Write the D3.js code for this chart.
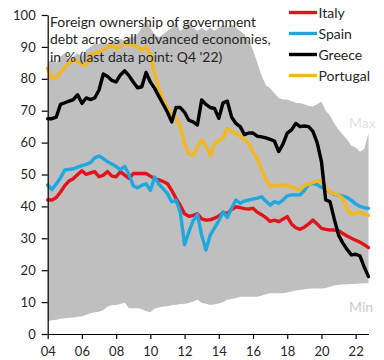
<!DOCTYPE html>
<html><head><meta charset="utf-8">
<script src="https://cdn.jsdelivr.net/npm/d3@7"></script>
<style>
body{margin:0;background:#fff}
svg{display:block}
text{font-family:Lato,"Open Sans",sans-serif}
</style>
</head><body>
<svg id="chart" width="384" height="360"></svg>
<script>
// Quarterly data, Q1 2004 .. Q4 2022
const startYear = 2004;
const italy = [
  42,42,42.8,44.5, 46.5,48,48.7,50, 51.2,50,50.5,50.9, 49.3,49.8,50.9,49.5,
  49.3,50.9,49.8,48.8, 50.3,50.3,50.3,50.3, 49.5,48.7,48.3,47.8, 47.1,45,42.5,40.3,
  37.7,36.9,37.2,37.7, 36.1,35.7,35.8,36.3, 37,38,37.8,39, 39.9,39.6,39.3,39.2,
  39.4,38.2,37.4,36.5, 35.3,35.7,35.2,36, 36.8,34.5,33.3,32.8, 33.5,34.5,35.7,34.5,
  33.1,32.8,32.6,32.6, 32.4,31.5,30.7,30, 29.4,28.8,28,27.1
];
const spain = [
  46.7,45.3,47,49, 51.4,51.6,51.8,52.3, 52.8,53.2,53.7,55.2, 55.8,55,54,53.3,
  52.5,51.5,52.5,50, 46.5,45.8,46.6,47.1, 45,49.2,47,45.5, 44,41.4,41.9,38.2,
  28,32,35.5,37.5, 31,26.3,31,33.3, 35.5,38.3,36.5,39.5, 42,41,41.7,42,
  42.3,42.6,43,41.7, 40.4,41.5,41,42, 43.3,43.6,43.6,43.6, 45,46.9,47.2,46.8,
  46,45.5,44.5,43.8, 43.5,43.2,42.8,41.9, 40.8,40,39.6,39.4
];
const greece = [
  67.5,67.5,68,72, 72.5,73,73.5,75, 72.3,74,73.5,74, 76.5,81.5,80.7,79.5,
  79,81.2,82.5,81, 79,77.2,77.5,82, 79,77,74.5,72, 69.5,66.5,71,71,
  69.5,67,66.5,65.5, 73.4,72,71,70.7, 67.6,72.5,73,68, 66,65,62.5,63,
  63,62,61.8,61.5, 61,60.5,57.2,59.5, 63,64,66,65, 65.2,65,63.5,60,
  54,42,41.5,36, 31,28.5,26.5,24.8, 25,24.5,21,18
];
const portugal = [
  83.3,80,80.5,82, 83.5,85,86,85.5, 84.5,84.3,87.5,88, 88.5,89,90,90.5,
  89.5,90,91,91, 90.5,90,89,90, 88,81.5,77,73.5, 71,69,67.5,65,
  59.5,56.5,56,58.5, 60.8,59,56,59.5, 60.8,61.3,64.5,63.5, 62.9,62,61,59.8,
  57,55,51.5,48.5, 46.2,46.5,46.7,46.7, 46.5,46.2,45.5,45.1, 46.5,47,47.5,48,
  48,46,44.5,44, 43.5,42.5,39,37.5, 38,38.2,37.5,37.2
];
const maxAll = [
  85,86,85,87, 88,86,87,88, 87,89,90,91, 91,91.5,91,92,
  92,92.5,92,93, 93,94,96,98.5, 96,94,93,94, 95,96,98,95,
  96,98,96,95, 96,95,96,95, 96,97,96,97, 96,95,94,92,
  89,85,81,78, 77,75.5,74,73.5, 73.5,73,72.5,72.3, 72,71.5,71.3,72,
  72.8,70,68.5,66, 64,62.5,61,59, 58.5,57.1,58,62.9
];
const minAll = [
  4.1,4.3,4.5,4.8, 4.9,5.1,5.2,5.4, 5.5,6,6.5,6.8, 7,7.5,8.6,9,
  9.1,9.4,9.8,8.1, 8.1,8.1,7.8,7.2, 6.8,8,8.3,8.6, 8.7,9,9.2,9.4,
  9.5,9.7,10.2,10.7, 9.8,9.5,9.1,9.3, 9.6,10,10.7,11, 11.3,11.7,11.7,11.7,
  11.7,11.7,12,12.5, 12.8,12.8,12.8,12.8, 13,13.3,13.6,13.8, 14,14.2,14.3,14.3,
  14.3,14.4,14.8,15.2, 15.4,15.5,15.6,15.7, 15.7,15.8,15.9,15.9
];
const quarters = italy.map((_, i) => startYear + i / 4);
const seriesNames = ["Italy", "Spain", "Greece", "Portugal"];
const xTickYears = [2004,2006,2008,2010,2012,2014,2016,2018,2020,2022];
const xTickLabels = ["04","06","08","10","12","14","16","18","20","22"];
const yTicks = [0,10,20,30,40,50,60,70,80,90,100];
const titleLines = ["Foreign ownership of government", "debt across all advanced economies,", "in % (last data point: Q4 '22)"];

const colors = {Italy:"#e3131b", Spain:"#1fa8e0", Greece:"#000000", Portugal:"#f4b81c"};
const dataBy = {Italy: italy, Spain: spain, Greece: greece, Portugal: portugal};

const svg = d3.select("#chart");
const x = d3.scaleLinear().domain([2004, 2022.75]).range([47.7, 368.5]);
const y = d3.scaleLinear().domain([0, 100]).range([334, 15]);

// range area
const area = d3.area().x((d,i)=>x(quarters[i])).y0((d,i)=>y(minAll[i])).y1(d=>y(d));
svg.append("path").datum(maxAll).attr("d", area).attr("fill", "#bfbfbf");

// Max / Min labels
svg.append("text").attr("x", 349).attr("y", 128).attr("fill", "#e2e2e2").attr("font-size", 14).text("Max");
svg.append("text").attr("x", 349).attr("y", 311.5).attr("fill", "#cbcbcb").attr("font-size", 14).text("Min");

// lines
const line = d3.line().x((d,i)=>x(quarters[i])).y(d=>y(d)).curve(d3.curveLinear);
["Italy","Spain","Portugal","Greece"].forEach(name => {
  svg.append("path").datum(dataBy[name]).attr("d", line)
    .attr("fill","none").attr("stroke", colors[name]).attr("stroke-width", 3.4)
    .attr("stroke-linejoin","round").attr("stroke-linecap","round");
});

// axes
const yAxis = d3.axisLeft(y).tickValues(yTicks).tickSize(6).tickSizeOuter(0).tickPadding(6);
const gy = svg.append("g").attr("transform", `translate(${x.range()[0]},0)`).call(yAxis);
const xAxis = d3.axisBottom(x).tickValues(xTickYears).tickFormat((d,i)=>xTickLabels[i]).tickSize(5).tickSizeOuter(0).tickPadding(8);
const gx = svg.append("g").attr("transform", `translate(0,${y(0)})`).call(xAxis);
[gx, gy].forEach(g => {
  g.selectAll("path.domain").attr("stroke", "#000").attr("stroke-width", 1.2);
  g.selectAll(".tick line").attr("stroke", "#000").attr("stroke-width", 1.2);
  g.selectAll("text").attr("font-family", "Lato, sans-serif").attr("font-size", 13).attr("fill", "#262626");
});

// title
const title = svg.append("text").attr("x", 50).attr("y", 27).attr("font-size", 14.5).attr("fill", "#262626");
titleLines.forEach((t, i) => title.append("tspan").attr("x", 50).attr("y", 27 + i * 17.3).text(t));
// fit second line width to reference
const w = title.selectAll("tspan").nodes()[1].getComputedTextLength();
title.attr("font-size", 14.5 * 221 / w);

// legend
const legend = svg.append("g");
seriesNames.forEach((name, i) => {
  const cy = 12.5 + i * 21;
  legend.append("line").attr("x1", 289).attr("x2", 317).attr("y1", cy).attr("y2", cy)
    .attr("stroke", colors[name]).attr("stroke-width", 3.4);
  legend.append("text").attr("x", 318.5).attr("y", cy + 5).attr("font-size", 14).attr("fill", "#262626").text(name);
});
</script>
</body></html>
